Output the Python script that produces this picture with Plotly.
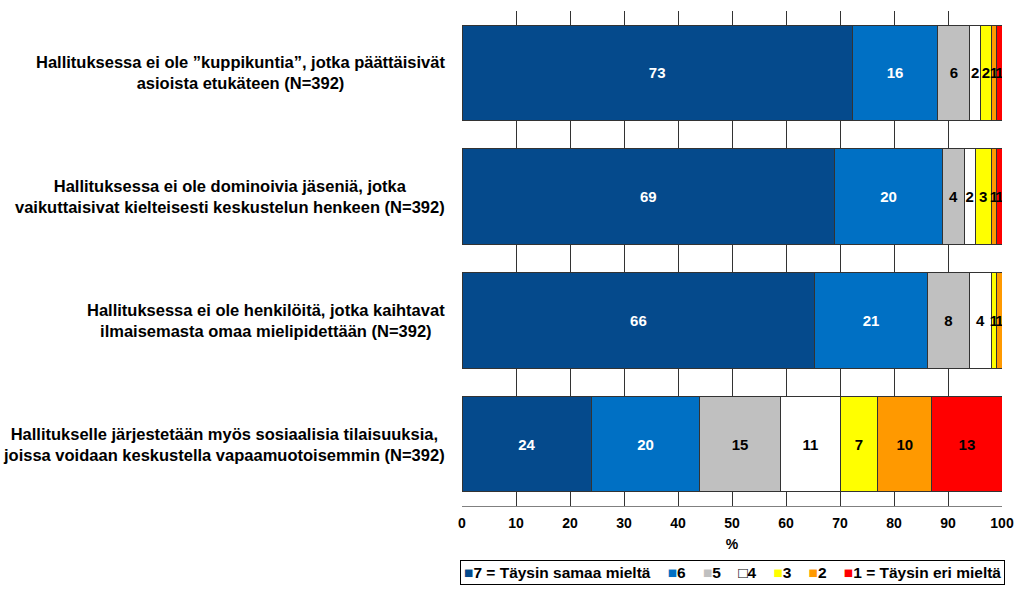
import plotly.graph_objects as go

categories = [
    "Hallituksessa ei ole ”kuppikuntia”, jotka päättäisivät<br>asioista etukäteen (N=392)",
    "Hallituksessa ei ole dominoivia jäseniä, jotka<br>vaikuttaisivat kielteisesti keskustelun henkeen (N=392)",
    "Hallituksessa ei ole henkilöitä, jotka kaihtavat<br>ilmaisemasta omaa mielipidettään (N=392)",
    "Hallitukselle järjestetään myös sosiaalisia tilaisuuksia,<br>joissa voidaan keskustella vapaamuotoisemmin (N=392)",
]
series_names = ["7 = Täysin samaa mieltä", "6", "5", "4", "3", "2", "1 = Täysin eri mieltä"]
values_7 = [73, 69, 66, 24]
values_6 = [16, 20, 21, 20]
values_5 = [6, 4, 8, 15]
values_4 = [2, 2, 4, 11]
values_3 = [2, 3, 1, 7]
values_2 = [1, 1, 1, 10]
values_1 = [1, 1, 0, 13]
series_values = [values_7, values_6, values_5, values_4, values_3, values_2, values_1]
colors = ["#054A8C", "#0070C4", "#C0C0C0", "#FFFFFF", "#FFFF00", "#FF9900", "#FF0000"]
text_colors = ["white", "white", "black", "black", "black", "black", "black"]
x_ticks = list(range(0, 101, 10))

font_family = "Liberation Sans, Arial, sans-serif"

fig = go.Figure()
for name, vals, col, tcol in zip(series_names, series_values, colors, text_colors):
    fig.add_trace(go.Bar(
        y=categories, x=vals, name=name, orientation="h",
        marker=dict(color=col, line=dict(color="#333333", width=1)),
        text=[str(v) if v > 0 else "" for v in vals],
        textposition="inside", insidetextanchor="middle",
        textfont=dict(color=tcol, size=15, family=font_family, weight="bold"),
        showlegend=False, hoverinfo="text+name",
    ))

# category labels (centered multi-line, right aligned block)
for c in categories:
    fig.add_annotation(
        x=-0.028, xref="paper", y=c, yref="y", xanchor="right", yanchor="middle",
        text=c, align="center", showarrow=False,
        font=dict(size=16.5, family=font_family, color="black", weight="bold"),
    )

# legend row built from series names and colours
parts = []
for name, col in zip(series_names, colors):
    sym = "□" if col.upper() == "#FFFFFF" else "■"
    scol = "#000000" if col.upper() == "#FFFFFF" else col
    parts.append(f"<span style='color:{scol}'>{sym}</span>{name}")
fig.add_annotation(
    x=0.5, xref="paper", y=-0.135, yref="paper", xanchor="center", yanchor="middle",
    text="\u00a0\u00a0\u00a0\u00a0".join(parts), showarrow=False,
    font=dict(size=15.5, family=font_family, color="black", weight="bold"),
    bordercolor="#000000", borderwidth=1, borderpad=3, bgcolor="white",
)

fig.update_layout(
    barmode="stack", barnorm="percent", bargap=0.23,
    width=1024, height=591,
    margin=dict(l=462, r=22, t=11, b=85),
    plot_bgcolor="white", paper_bgcolor="white",
    font=dict(family=font_family, size=14, color="black"),
    uniformtext=dict(minsize=15, mode="show"),
    xaxis=dict(
        range=[0, 100], tickvals=x_ticks, showgrid=True, gridcolor="#333333", gridwidth=1,
        zeroline=False, showline=True, linecolor="#808080", linewidth=1,
        ticks="", ticklabelstandoff=4,
        tickfont=dict(size=14, family=font_family, weight="bold"),
        title=dict(text="%", font=dict(size=14, family=font_family, weight="bold"), standoff=9),
    ),
    yaxis=dict(
        categoryorder="array", categoryarray=categories[::-1],
        showticklabels=False, showgrid=False, zeroline=False,
    ),
)

fig.write_html("out.html", config={"displayModeBar": False},
               post_script="document.body.style.margin='0';document.body.style.overflow='hidden';")
